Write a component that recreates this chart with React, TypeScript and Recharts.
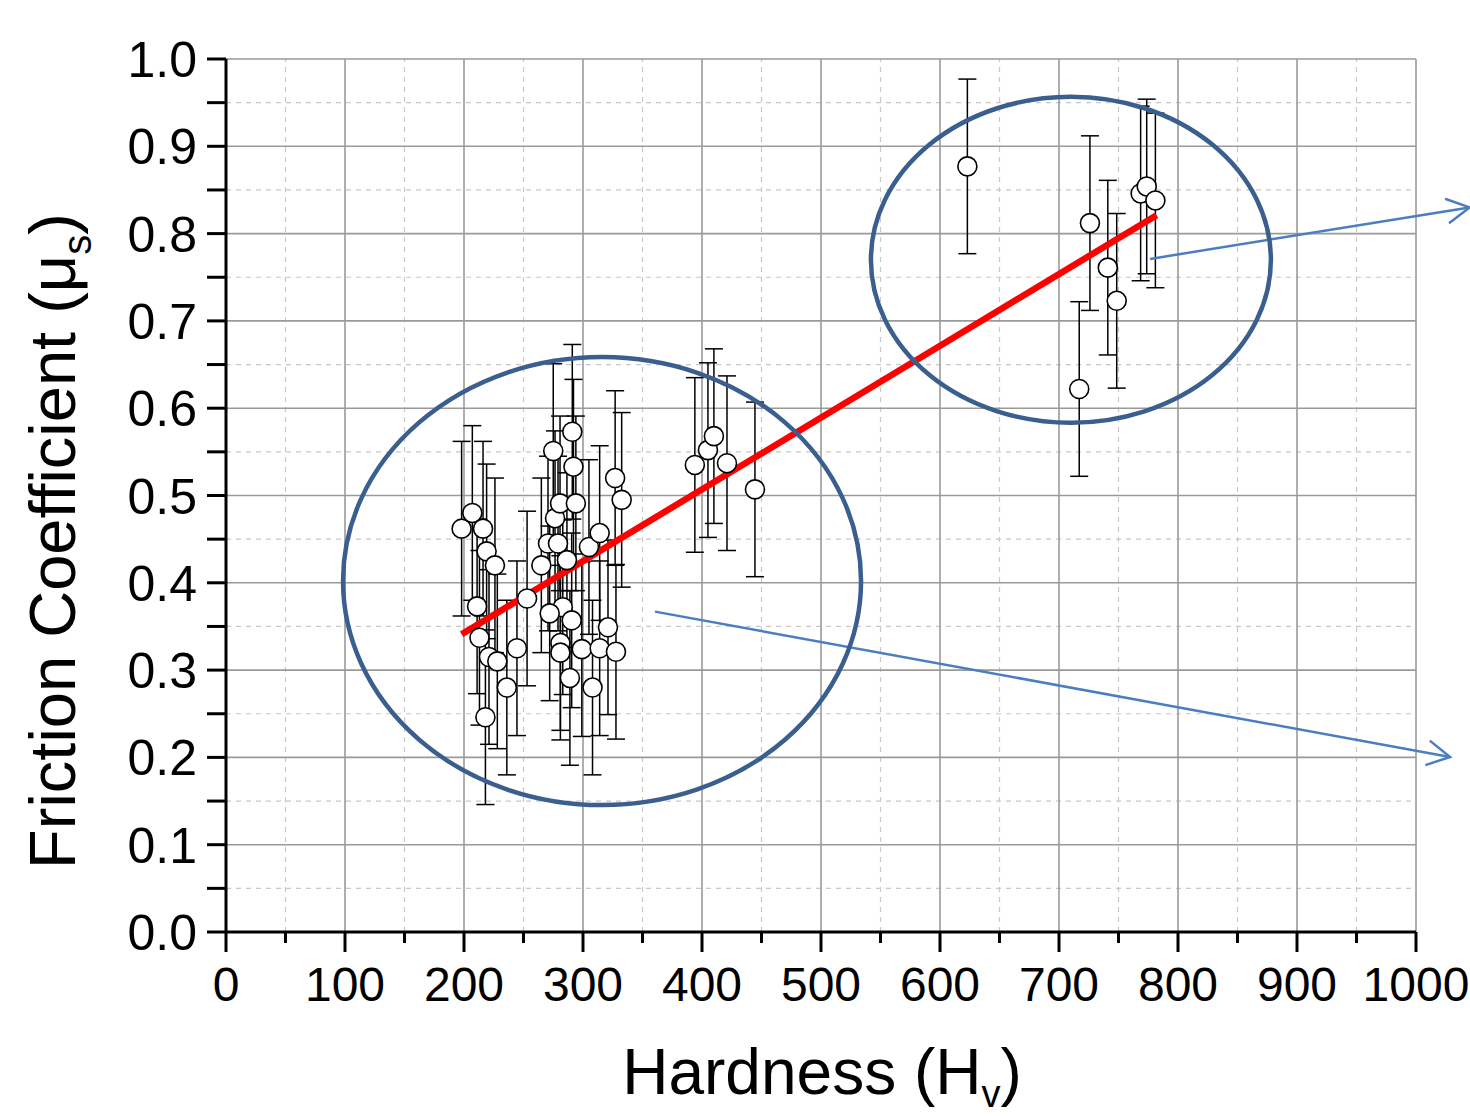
import React from 'react';
import { ComposedChart, Scatter, Line, XAxis, YAxis, ErrorBar, ReferenceLine, ReferenceDot } from 'recharts';

const hardness = [198, 207, 216, 219, 226, 211, 213, 221, 228, 218, 236, 244.5, 253, 265, 270.6, 275, 276.5, 279, 280.7, 291, 292, 294, 286.5, 283, 272, 290.5, 281, 281, 289, 299, 305, 308, 314, 314, 321, 327.7, 327, 332.5, 394, 405, 410, 421, 444.5, 623, 726, 741, 748.5, 717, 768.6, 773.7, 781];
const friction = [0.462, 0.48, 0.462, 0.436, 0.42, 0.373, 0.337, 0.315, 0.31, 0.246, 0.28, 0.325, 0.382, 0.42, 0.445, 0.551, 0.474, 0.445, 0.491, 0.573, 0.533, 0.491, 0.426, 0.372, 0.365, 0.357, 0.331, 0.32, 0.291, 0.324, 0.441, 0.28, 0.457, 0.325, 0.349, 0.321, 0.52, 0.495, 0.535, 0.552, 0.568, 0.537, 0.507, 0.877, 0.812, 0.761, 0.723, 0.622, 0.846, 0.854, 0.838];
const frictionErr = [0.1, 0.1, 0.1, 0.1, 0.1, 0.1, 0.1, 0.1, 0.1, 0.1, 0.1, 0.1, 0.1, 0.1, 0.1, 0.1, 0.1, 0.1, 0.1, 0.1, 0.1, 0.1, 0.1, 0.1, 0.1, 0.1, 0.1, 0.1, 0.1, 0.1, 0.1, 0.1, 0.1, 0.1, 0.1, 0.1, 0.1, 0.1, 0.1, 0.1, 0.1, 0.1, 0.1, 0.1, 0.1, 0.1, 0.1, 0.1, 0.1, 0.1, 0.1];

const fitX = [198, 782];
const fitY = [0.341, 0.821];

const xMajor = [0, 100, 200, 300, 400, 500, 600, 700, 800, 900, 1000];
const xMinor = [50, 150, 250, 350, 450, 550, 650, 750, 850, 950];
const yMajor = [0, 0.1, 0.2, 0.3, 0.4, 0.5, 0.6, 0.7, 0.8, 0.9, 1.0];
const yMinor = [0.05, 0.15, 0.25, 0.35, 0.45, 0.55, 0.65, 0.75, 0.85, 0.95];
const yLabels = ['0.0', '0.1', '0.2', '0.3', '0.4', '0.5', '0.6', '0.7', '0.8', '0.9', '1.0'];

// annotation ellipses: centers in data units
const ellipseCenters = [
  { h: 316, mu: 0.402, rx: 259, ry: 224 },
  { h: 710, mu: 0.77, rx: 200, ry: 163 },
];
// annotation arrows in data units
const arrows = [
  [{ x: 776.5, y: 0.771 }, { x: 1045, y: 0.83 }],
  [{ x: 360.5, y: 0.367 }, { x: 1028.6, y: 0.2005 }],
];

const points = hardness.map((h, i) => ({ h, mu: friction[i], err: frictionErr[i] }));
const fitData = fitX.map((h, i) => ({ h, mu: fitY[i] }));

const FONT = '"Liberation Sans", Arial, sans-serif';

const XTick = (props: any) => {
  const { x, y, payload } = props;
  const v = payload.value;
  const major = Math.round(v) % 100 === 0;
  return (
    <g>
      <line x1={x} y1={y} x2={x} y2={y + (major ? 20 : 11)} stroke="#000" strokeWidth={3} />
      {major && (
        <text x={x} y={y + 69} textAnchor="middle" fontSize={48} fontFamily={FONT} fill="#000">
          {String(v)}
        </text>
      )}
    </g>
  );
};

const YTick = (props: any) => {
  const { x, y, payload } = props;
  const v = payload.value;
  const idx = Math.round(v * 100);
  const major = idx % 10 === 0;
  return (
    <g>
      <line x1={x} y1={y} x2={x - 19} y2={y} stroke="#000" strokeWidth={3} />
      {major && (
        <text x={x - 29} y={y} dy="0.36em" textAnchor="end" fontSize={50} fontFamily={FONT} fill="#000">
          {yLabels[idx / 10]}
        </text>
      )}
    </g>
  );
};

const Circle = (props: any) => {
  const { cx, cy } = props;
  if (cx == null || cy == null) return <g />;
  return <circle cx={cx} cy={cy} r={9.5} fill="#fff" stroke="#000" strokeWidth={1.6} />;
};

const makeEllipse = (rx: number, ry: number) => (props: any) => {
  const { cx, cy } = props;
  return <ellipse cx={cx} cy={cy} rx={rx} ry={ry} fill="none" stroke="#3a5f8e" strokeWidth={4.5} />;
};

const ArrowShape = (props: any) => {
  const { x1, y1, x2, y2 } = props;
  if (x1 == null) return <g />;
  const ang = Math.atan2(y2 - y1, x2 - x1);
  const L = 26;
  const a1 = ang + Math.PI - 0.5;
  const a2 = ang + Math.PI + 0.5;
  return (
    <g>
      <line x1={x1} y1={y1} x2={x2} y2={y2} stroke="#4a7ec0" strokeWidth={2.5} />
      <polyline
        points={`${x2 + L * Math.cos(a1)},${y2 + L * Math.sin(a1)} ${x2},${y2} ${x2 + L * Math.cos(a2)},${y2 + L * Math.sin(a2)}`}
        fill="none"
        stroke="#4a7ec0"
        strokeWidth={2.5}
      />
    </g>
  );
};

const XTitle = () => (
  <text x={822} y={1094} textAnchor="middle" fontSize={64} fontFamily={FONT} fill="#000">
    Hardness (H<tspan fontSize={38} dy={13}>v</tspan><tspan dy={-13}>)</tspan>
  </text>
);

const YTitle = () => (
  <text x={75} y={541} transform="rotate(-90, 75, 541)" textAnchor="middle" fontSize={65} fontFamily={FONT} fill="#000">
    Friction Coefficient (μ<tspan fontSize={40} dy={16}>s</tspan><tspan dy={-16}>)</tspan>
  </text>
);

export default function App() {
  return (
    <div style={{ position: 'absolute', left: 0, top: 0, background: '#fff' }}>
      <ComposedChart
        width={1470}
        height={1116}
        margin={{ top: 59, right: 54, left: 26, bottom: 34 }}
      >
        <XAxis
          type="number"
          dataKey="h"
          domain={[0, 1000]}
          ticks={[...xMajor, ...xMinor].sort((a, b) => a - b)}
          interval={0}
          tickSize={0}
          tickMargin={0}
          tickLine={false}
          tick={<XTick />}
          height={150}
          axisLine={{ stroke: '#000', strokeWidth: 3 }}
          allowDataOverflow
          label={<XTitle />}
        />
        <YAxis
          type="number"
          domain={[0, 1]}
          ticks={[...yMajor, ...yMinor].sort((a, b) => a - b)}
          interval={0}
          tickSize={0}
          tickMargin={0}
          tickLine={false}
          tick={<YTick />}
          width={200}
          axisLine={{ stroke: '#000', strokeWidth: 3 }}
          allowDataOverflow
          label={<YTitle />}
        />
        {xMinor.map((v) => (
          <ReferenceLine key={'xm' + v} x={v} stroke="#c8c8c8" strokeWidth={1.2} strokeDasharray="5 5" />
        ))}
        {yMinor.map((v) => (
          <ReferenceLine key={'ym' + v} y={v} stroke="#c8c8c8" strokeWidth={1.2} strokeDasharray="5 5" />
        ))}
        {xMajor.slice(1).map((v) => (
          <ReferenceLine key={'xM' + v} x={v} stroke="#9a9a9a" strokeWidth={1.6} />
        ))}
        {yMajor.slice(1).map((v) => (
          <ReferenceLine key={'yM' + v} y={v} stroke="#9a9a9a" strokeWidth={1.6} />
        ))}
        <Scatter data={points} dataKey="mu" shape={<Circle />} isAnimationActive={false}>
          <ErrorBar dataKey="err" direction="y" width={9} stroke="#000" strokeWidth={1.5} />
        </Scatter>
        <Line data={fitData} dataKey="mu" type="linear" stroke="#ff0000" strokeWidth={6.5} dot={false} activeDot={false} isAnimationActive={false} />
        {ellipseCenters.map((e, i) => (
          <ReferenceDot key={'el' + i} x={e.h} y={e.mu} r={1} ifOverflow="visible" shape={makeEllipse(e.rx, e.ry)} />
        ))}
        {arrows.map((seg, i) => (
          <ReferenceLine key={'ar' + i} segment={seg} ifOverflow="visible" shape={ArrowShape} />
        ))}
      </ComposedChart>
    </div>
  );
}
